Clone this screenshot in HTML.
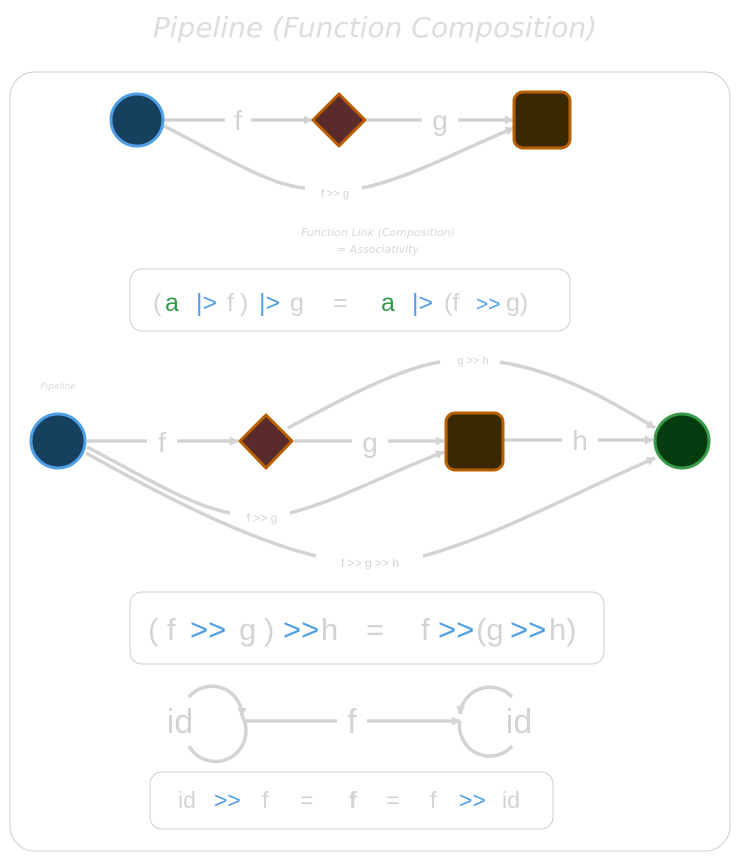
<!DOCTYPE html>
<html><head><meta charset="utf-8"><style>
html,body{margin:0;padding:0;background:#fff}
svg{display:block;font-family:"Liberation Sans",sans-serif}
</style></head><body>
<svg width="739" height="861" viewBox="0 0 739 861" xmlns="http://www.w3.org/2000/svg">
<defs>
<marker id="ar" viewBox="0 0 10 10" refX="9" refY="5" markerWidth="5" markerHeight="5" orient="auto-start-reverse" markerUnits="userSpaceOnUse" style="overflow:visible">
<path d="M0,0 L10,5 L0,10 z" fill="#d3d3d3" transform="scale(1.8) translate(-4,-2.2)"/>
</marker>
</defs>
<text x="375" y="37" text-anchor="middle" font-size="28" fill="#dddddd" font-family="DejaVu Sans, sans-serif" font-style="italic">Pipeline (Function Composition)</text>
<rect x="10" y="72" width="720" height="779" rx="25" fill="none" stroke="#cccccc" stroke-width="1"/>

<g stroke="#d3d3d3" stroke-width="3.5" fill="none">
<line x1="164" y1="120" x2="225" y2="120"/>
<line x1="251" y1="120" x2="312" y2="120" marker-end="url(#ar)"/>
<line x1="366" y1="120" x2="422" y2="120"/>
<line x1="458" y1="120" x2="513" y2="120" marker-end="url(#ar)"/>
<path d="M164,126 C230,160 270,185 305,188"/>
<path d="M362,188 C410,178 460,150 514,128" marker-end="url(#ar)"/>

<line x1="87" y1="441" x2="147" y2="441"/>
<line x1="177" y1="441" x2="238" y2="441" marker-end="url(#ar)"/>
<line x1="294" y1="441" x2="352" y2="441"/>
<line x1="388" y1="441" x2="444" y2="441" marker-end="url(#ar)"/>
<line x1="504" y1="440" x2="562" y2="440"/>
<line x1="598" y1="440" x2="653" y2="440" marker-end="url(#ar)"/>
<path d="M288,428 C340,400 400,368 440,362"/>
<path d="M500,362 C560,372 610,400 655,428" marker-end="url(#ar)"/>
<path d="M87,447 C150,480 190,505 230,513"/>
<path d="M290,513 C340,500 390,472 444,452" marker-end="url(#ar)"/>
<path d="M86,453 C170,500 250,540 316,556"/>
<path d="M423,556 C500,535 580,490 655,458" marker-end="url(#ar)"/>

<path d="M189,697 A30,30 0 0 1 242,716" marker-end="url(#ar)"/>
<path d="M242,716 A30,30 0 0 1 189,746"/>
<line x1="243" y1="721" x2="337" y2="721"/>
<line x1="367" y1="721" x2="460" y2="721" marker-end="url(#ar)"/>
<path d="M512,697 A30,30 0 0 0 460,714" marker-end="url(#ar)"/>
<path d="M460,721 A30,30 0 0 0 512,746"/>
</g>

<circle cx="137" cy="120" r="26" fill="#17405f" stroke="#4f9ee6" stroke-width="3"/>
<polygon points="339,94 365,120 339,146 313,120" fill="#5a2b2c" stroke="#b86000" stroke-width="3" stroke-linejoin="round"/>
<rect x="514" y="92" width="56" height="56" rx="9" fill="#3a2800" stroke="#b86000" stroke-width="3"/>

<circle cx="58" cy="441" r="27" fill="#17405f" stroke="#4f9ee6" stroke-width="3"/>
<polygon points="266,415 292,441 266,468 240,441" fill="#5a2b2c" stroke="#b86000" stroke-width="3" stroke-linejoin="round"/>
<rect x="446" y="413" width="57" height="57" rx="9" fill="#3a2800" stroke="#b86000" stroke-width="3"/>
<circle cx="682" cy="441" r="27" fill="#053d10" stroke="#3a9a4a" stroke-width="3"/>

<g fill="#d3d3d3" text-anchor="middle">
<text x="238" y="130" font-size="28">f</text>
<text x="440" y="130" font-size="28">g</text>
<text x="335" y="197" font-size="11">f &gt;&gt; g</text>
<text x="162" y="452" font-size="28">f</text>
<text x="370" y="452" font-size="28">g</text>
<text x="580" y="450" font-size="28">h</text>
<text x="473" y="364" font-size="11">g &gt;&gt; h</text>
<text x="262" y="522" font-size="12">f &gt;&gt; g</text>
<text x="370" y="567" font-size="12">f &gt;&gt; g &gt;&gt; h</text>
<text x="180" y="733" font-size="34">id</text>
<text x="352" y="733" font-size="34">f</text>
<text x="519" y="733" font-size="34">id</text>
</g>
<g fill="#d8d8d8" text-anchor="middle" font-family="DejaVu Sans, sans-serif" font-style="italic">
<text x="378" y="236" font-size="11">Function Link (Composition)</text>
<text x="378" y="253" font-size="11">=  Associativity</text>
<text x="58" y="389" font-size="9">Pipeline</text>
</g>

<rect x="130" y="269" width="440" height="62" rx="12" fill="none" stroke="#cccccc"/>
<text y="311" font-size="25" fill="#d3d3d3"><tspan x="153">(</tspan><tspan x="165" fill="#2e9a48">a</tspan><tspan x="196" fill="#4f9ee6">|&gt;</tspan><tspan x="227">f</tspan><tspan x="240">)</tspan><tspan x="259" fill="#4f9ee6">|&gt;</tspan><tspan x="290">g</tspan><tspan x="333">=</tspan><tspan x="381" fill="#2e9a48">a</tspan><tspan x="412" fill="#4f9ee6">|&gt;</tspan><tspan x="444">(f</tspan><tspan x="476" fill="#4f9ee6" font-size="21">&gt;&gt;</tspan><tspan x="506">g)</tspan></text>

<rect x="130" y="592" width="474" height="72" rx="12" fill="none" stroke="#cccccc"/>
<text y="640" font-size="31" fill="#d3d3d3"><tspan x="148">(</tspan><tspan x="167">f</tspan><tspan x="190" fill="#4f9ee6">&gt;&gt;</tspan><tspan x="239">g</tspan><tspan x="264">)</tspan><tspan x="283" fill="#4f9ee6">&gt;&gt;</tspan><tspan x="321">h</tspan><tspan x="366">=</tspan><tspan x="421">f</tspan><tspan x="438" fill="#4f9ee6">&gt;&gt;</tspan><tspan x="476">(g</tspan><tspan x="510" fill="#4f9ee6">&gt;&gt;</tspan><tspan x="549">h)</tspan></text>

<rect x="150" y="772" width="403" height="57" rx="12" fill="none" stroke="#cccccc"/>
<text y="808" font-size="23" fill="#d3d3d3"><tspan x="178">id</tspan><tspan x="214" fill="#4f9ee6">&gt;&gt;</tspan><tspan x="262">f</tspan><tspan x="300">=</tspan><tspan x="349" font-weight="bold">f</tspan><tspan x="386">=</tspan><tspan x="430">f</tspan><tspan x="459" fill="#4f9ee6">&gt;&gt;</tspan><tspan x="502">id</tspan></text>
</svg>
</body></html>
